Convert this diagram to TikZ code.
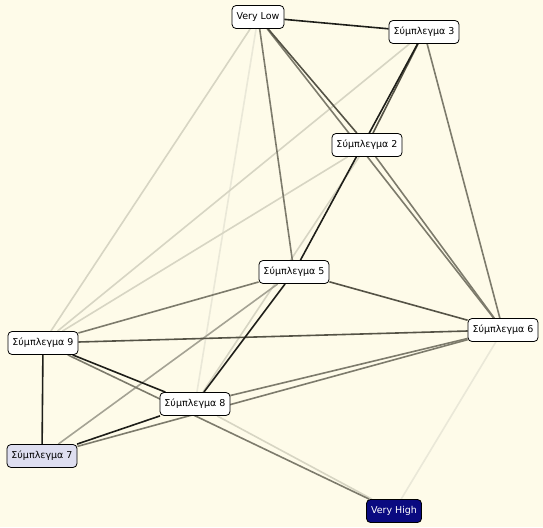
\documentclass[tikz,border=0pt]{standalone}
\usepackage{fontspec}
\setmainfont{DejaVu Sans}
\usepackage{xcolor}
\usepackage{tikz}
\usetikzlibrary{backgrounds}

\definecolor{paper}{RGB}{254,251,233}
\definecolor{navy}{RGB}{10,10,128}
\definecolor{lavender}{RGB}{222,222,240}
\definecolor{wA}{RGB}{30,30,25}
\definecolor{wB}{RGB}{85,83,70}
\definecolor{wC}{RGB}{125,123,108}
\definecolor{wD}{RGB}{165,163,148}
\definecolor{wE}{RGB}{215,213,195}
\definecolor{wF}{RGB}{234,232,216}

\begin{document}
\begin{tikzpicture}[
    x=1pt, y=-1pt,
    cluster/.style={rectangle, rounded corners=4pt, draw, fill=white, thick,
        minimum height=23pt, inner xsep=4.5pt, font=\fontsize{9.5}{11}\selectfont},
    link/.style={line width=1.6pt}
]
\useasboundingbox (0,0) rectangle (543,527);

\node[cluster] (vl) at (258,17) {Very Low};
\node[cluster] (c3) at (424,32) {Σύμπλεγμα 3};
\node[cluster] (c2) at (367,145) {Σύμπλεγμα 2};
\node[cluster] (c5) at (294,272) {Σύμπλεγμα 5};
\node[cluster] (c9) at (43,343) {Σύμπλεγμα 9};
\node[cluster] (c6) at (503,330) {Σύμπλεγμα 6};
\node[cluster] (c8) at (195,404) {Σύμπλεγμα 8};
\node[cluster, fill=lavender] (c7) at (42,456) {Σύμπλεγμα 7};
\node[cluster, fill=navy, text=white] (vh) at (394,511) {Very High};

\begin{scope}[on background layer]
\fill[paper] (0,0) rectangle (543,527);
% faint ones first
\draw[link, wF] (vl) -- (c8);
\draw[link, wF] (c6) -- (vh);
\draw[link, wE] (vl) -- (c9);
\draw[link, wE] (c3) -- (c9);
\draw[link, wE] (c2) -- (c9);
\draw[link, wE] (c2) -- (c8);
\draw[link, wE] (c8) -- (vh);
\draw[link, wD] (c5) -- (c7);
\draw[link, wC] (vl) -- (c6);
\draw[link, wC] (vl) -- (c5);
\draw[link, wC] (c3) -- (c6);
\draw[link, wC] (c2) -- (c6);
\draw[link, wC] (c5) -- (c9);
\draw[link, wC] (c9) -- (vh);
\draw[link, wC] (c8) -- (c6);
\draw[link, wC] (c7) -- (c6);
\draw[link, wB] (vl) -- (c2);
\draw[link, wB] (c3) -- (c2);
\draw[link, wB] (c5) -- (c6);
\draw[link, wB] (c9) -- (c6);
% strongest
\draw[link, wA] (vl) -- (c3);
\draw[link, wA] (c3) -- (c5);
\draw[link, wA] (c5) -- (c8);
\draw[link, wA] (c9) -- (c7);
\draw[link, wA] (c9) -- (c8);
\draw[link, wA] (c7) -- (c8);
\end{scope}
\end{tikzpicture}
\end{document}
